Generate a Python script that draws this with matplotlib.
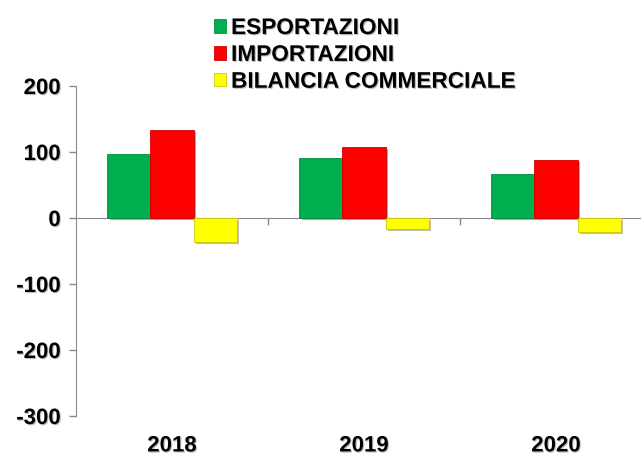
import numpy as np
import matplotlib
matplotlib.use('Agg')
from matplotlib import pyplot as plt
from matplotlib.patches import Patch
from matplotlib.font_manager import FontProperties
import matplotlib.patheffects as pe

years = ['2018', '2019', '2020']
export_values = [97, 91, 67]
import_values = [133, 108, 88]
balance_values = [-36, -17, -21]
series_names = ['ESPORTAZIONI', 'IMPORTAZIONI', 'BILANCIA COMMERCIALE']
series_colors = ['#00B050', '#FF0000', '#FFFF00']
edge_colors = ['#009040', '#D00000', '#C8C800']

plt.rcParams['font.family'] = ['Liberation Sans', 'DejaVu Sans']
plt.rcParams['font.weight'] = 'bold'
plt.rcParams['axes.unicode_minus'] = False

fig = plt.figure(figsize=(6.41, 4.55), dpi=100)
ax = fig.add_axes([76 / 641, 39 / 455, 576 / 641, 330 / 455])

x = np.arange(len(years))
width = 0.224
shadow = [pe.SimplePatchShadow(offset=(1.5, -1.5), alpha=0.35), pe.Normal()]
text_shadow = [pe.SimplePatchShadow(offset=(0.8, -0.8), alpha=0.25), pe.Normal()]
for i, vals in enumerate([export_values, import_values, balance_values]):
    bars = ax.bar(x + (i - 1) * width, vals, width, color=series_colors[i],
                  edgecolor=edge_colors[i], linewidth=0.6, zorder=3)
    for b in bars:
        b.set_path_effects(shadow)

ax.set_xlim(-0.5, 2.5)
ax.set_ylim(-300, 200)
ax.set_yticks([-300, -200, -100, 0, 100, 200])
ax.tick_params(axis='y', direction='out', length=5, color='#888888', width=1,
               labelsize=16, pad=6)
for lbl in ax.get_yticklabels():
    lbl.set_fontweight('bold')
    lbl.set_path_effects(text_shadow)

for s in ['top', 'right']:
    ax.spines[s].set_visible(False)
ax.spines['left'].set_color('#888888')
ax.spines['bottom'].set_position(('data', 0))
ax.spines['bottom'].set_color('#888888')
ax.set_xticks([0.5, 1.5])
ax.set_xticklabels([])
ax.tick_params(axis='x', direction='out', length=5, color='#888888', width=1)

sec = ax.secondary_xaxis(0)
sec.set_xticks(x)
sec.set_xticklabels(years, fontsize=16, fontweight='bold')
sec.tick_params(length=0, pad=14)
sec.spines['bottom'].set_visible(False)
for lbl in sec.get_xticklabels():
    lbl.set_path_effects(text_shadow)

legend_font = FontProperties(family='Liberation Sans', weight='bold', size=16.3)
handles = [Patch(facecolor=c, edgecolor=e, linewidth=0.6) for c, e in zip(series_colors, edge_colors)]
leg = fig.legend(handles, series_names, loc='upper left', bbox_to_anchor=(205 / 641, 1 - 7 / 455),
                 frameon=False, prop=legend_font, handlelength=0.53,
                 handleheight=0.53, handletextpad=0.22, labelspacing=0.17, borderaxespad=0,
                 borderpad=0.4)
for t in leg.get_texts():
    t.set_path_effects(text_shadow)

fig.savefig('out.png', dpi=100)
